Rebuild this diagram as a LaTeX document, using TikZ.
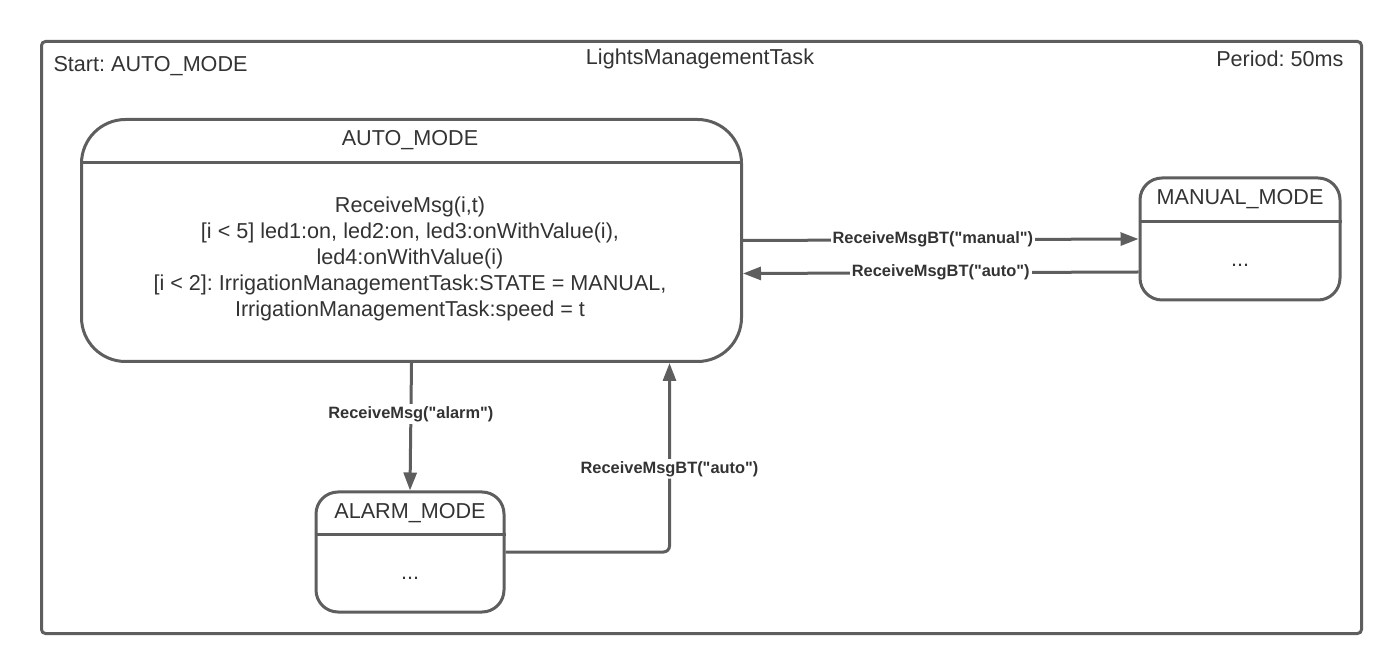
\documentclass[tikz,border=0pt]{standalone}
\usepackage{fontspec}
\setmainfont{Liberation Sans}[Ligatures=TeXOff]
\usepackage{tikz}
\usetikzlibrary{positioning,arrows.meta}
\definecolor{linegray}{HTML}{5E5E5E}
\definecolor{textgray}{HTML}{333333}
\frenchspacing

\begin{document}
\begin{tikzpicture}[
    x=0.5pt, y=-0.5pt,
    line width=1.5pt,
    every node/.style={text=textgray},
    plaintext/.style={font=\fontsize{10.8}{13}\selectfont, inner sep=0pt},
    statebox/.style={draw=linegray, rectangle, rounded corners=11pt},
    translabel/.style={font=\fontsize{8.2}{9}\selectfont\bfseries, fill=white, inner sep=1pt},
    trans/.style={draw=linegray, -{Triangle[length=9pt,width=6.5pt]}}
  ]
    \useasboundingbox (0,0) rectangle (1400,672);

    \node (task) [draw=linegray, rounded corners=2pt, minimum width=660pt, minimum height=296pt, anchor=north west] at (40,40) {};
    \node (task-start) [plaintext, anchor=west] at (52,66) {Start: AUTO\_MODE};
    \node (task-name) [plaintext] at (700,59) {LightsManagementTask};
    \node (task-period) [plaintext, anchor=east] at (1345,59) {Period: 50ms};

    \node (auto) [statebox, rounded corners=22pt, minimum width=330pt, minimum height=121pt, anchor=north west] at (80,118) {};
    \node (auto-title) [plaintext] at (410,140) {AUTO\_MODE};
    \draw [linegray] ([yshift=-22.5pt]auto.north west) -- ([yshift=-22.5pt]auto.north east);
    \node (auto-body) [plaintext, align=center] at (410,259) {ReceiveMsg(i,t)\\
      {[i < 5]} led1:on, led2:on, led3:onWithValue(i),\\
      led4:onWithValue(i)\\
      {[i < 2]}: IrrigationManagementTask:STATE = MANUAL,\\
      IrrigationManagementTask:speed = t};

    \node (manual) [statebox, minimum width=100pt, minimum height=61pt] at (1240,239) {};
    \node (manual-title) [plaintext] at (1240,199) {MANUAL\_MODE};
    \draw [linegray] ([yshift=-22.5pt]manual.north west) -- ([yshift=-22.5pt]manual.north east);
    \node (manual-body) [plaintext] at (1240,265) {...};

    \node (alarm) [statebox, minimum width=94pt, minimum height=60pt] at (410,552) {};
    \node (alarm-title) [plaintext] at (410,513) {ALARM\_MODE};
    \draw [linegray] ([yshift=-22pt]alarm.north west) -- ([yshift=-22pt]alarm.north east);
    \node (alarm-body) [plaintext] at (410,578) {...};

    \draw [trans] (auto.east) -- node [translabel, pos=0.48] {ReceiveMsgBT("manual")} (manual.west);
    \draw [trans] ([yshift=-16.5pt]manual.west) -- node [translabel, pos=0.5] {ReceiveMsgBT("auto")} ([yshift=-16.5pt]auto.east);
    \draw [trans] (auto.south) -- node [translabel, pos=0.4] {ReceiveMsg("alarm")} (alarm.north);
    \draw [trans, rounded corners=3pt] (alarm.east) -| node [translabel, pos=0.72] {ReceiveMsgBT("auto")} ([xshift=129pt]auto.south);
  \end{tikzpicture}
\end{document}
